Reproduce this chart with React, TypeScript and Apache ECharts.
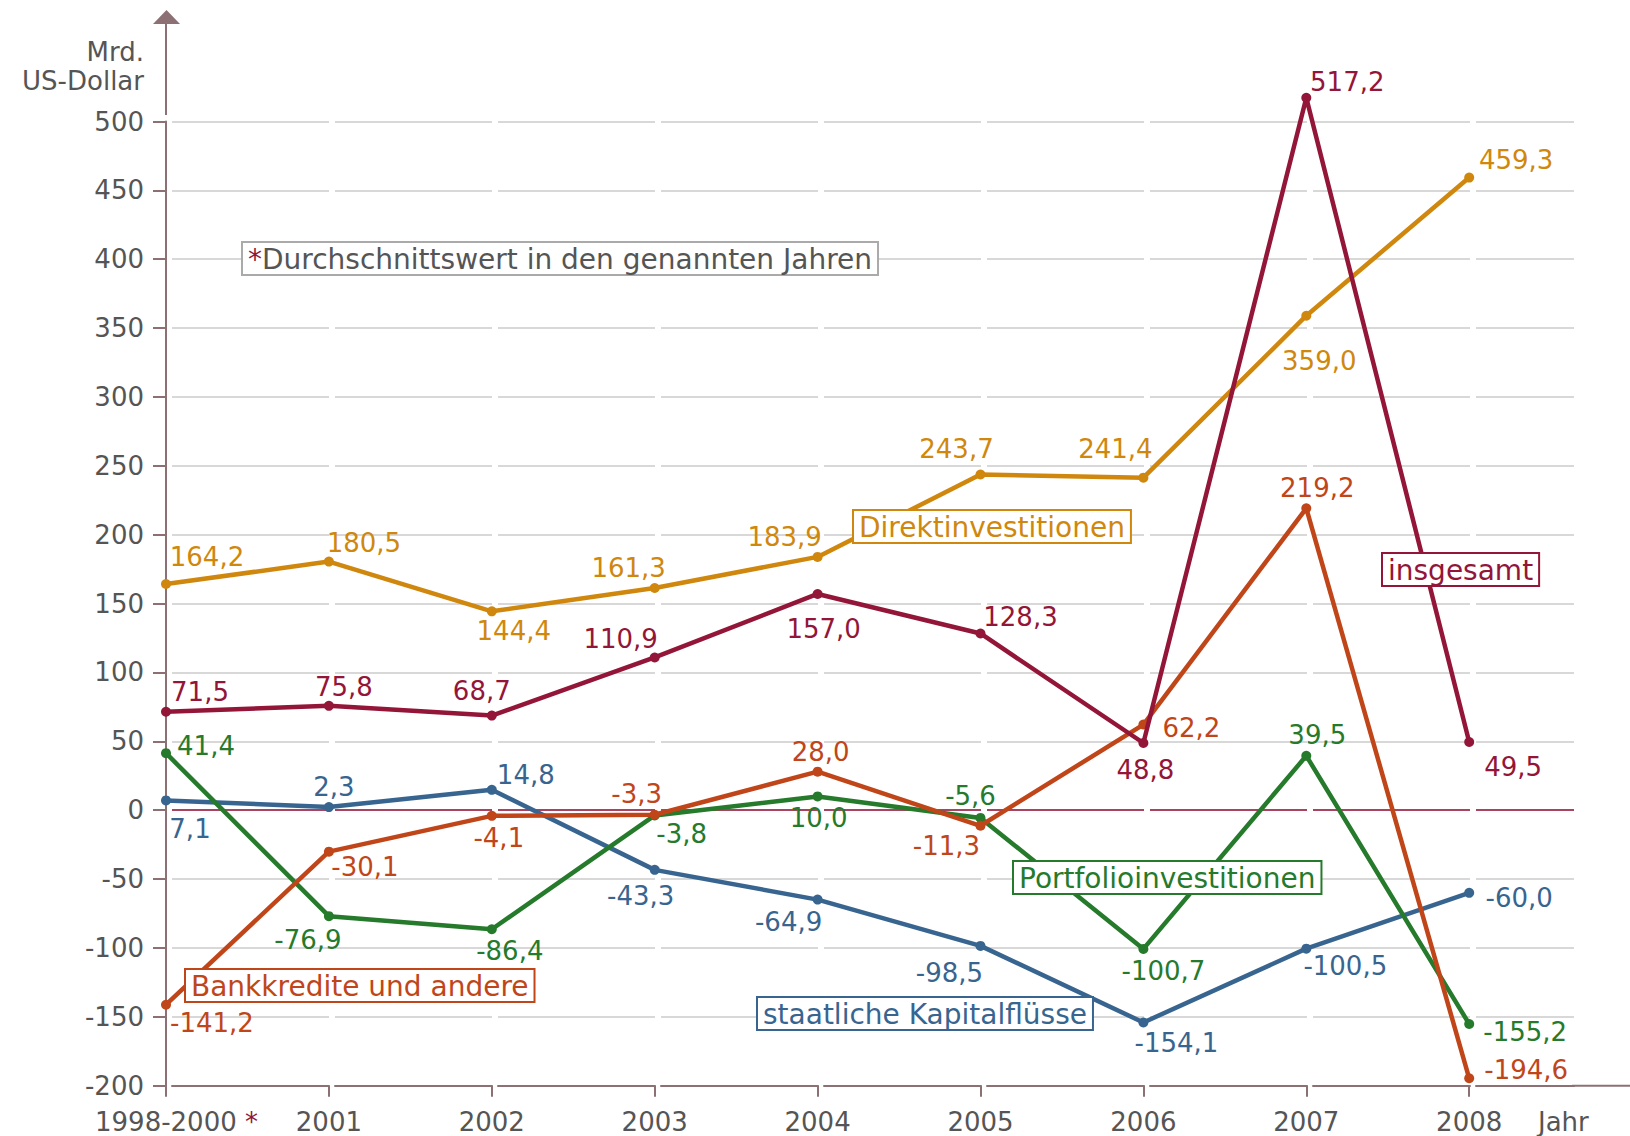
import React, { useEffect, useRef } from 'react';
import * as echarts from 'echarts';

// ---- data ----
const categories = ['1998-2000', '2001', '2002', '2003', '2004', '2005', '2006', '2007', '2008'];
const insgesamt = [71.5, 75.8, 68.7, 110.9, 157.0, 128.3, 48.8, 517.2, 49.5];
const direktinvestitionen = [164.2, 180.5, 144.4, 161.3, 183.9, 243.7, 241.4, 359.0, 459.3];
const bankkredite = [-141.2, -30.1, -4.1, -3.3, 28.0, -11.3, 62.2, 219.2, -194.6];
const portfolioinvestitionen = [41.4, -76.9, -86.4, -3.8, 10.0, -5.6, -100.7, 39.5, -155.2];
const staatlicheKapitalfluesse = [7.1, 2.3, 14.8, -43.3, -64.9, -98.5, -154.1, -100.5, -60.0];
const yMin = -200;
const yMax = 500;
const yInterval = 50;

// ---- label placement (styling only) ----
const offInsgesamt = [[34, -20], [15, -19], [-10, -25], [-34, -18], [6, 35], [40, -16], [2, 27], [41, -16], [44, 25]];
const offDirekt = [[41, -27], [35, -19], [22, 20], [-26, -20], [-33, -20], [-24, -26], [-28, -29], [13, 45], [47, -18]];
const offBank = [[46, 18], [36, 15], [7, 22], [-18, -21], [3, -20], [-34, 20], [48, 3], [11, -20], [57, -8]];
const offPortfolio = [[40, -7], [-21, 24], [18, 22], [27, 19], [1, 22], [-10, -22], [20, 22], [11, -21], [56, 8]];
const offStaat = [[24, 29], [5, -20], [34, -15], [-14, 26], [-29, 22], [-31, 27], [33, 21], [39, 17], [50, 5]];

const FONT = 'DejaVu Sans';
const C_INS = '#931638';
const C_DIR = '#d0870d';
const C_BANK = '#c0461a';
const C_PORT = '#267a2b';
const C_STAAT = '#386590';
const C_AXIS = '#8c7074';
const C_GRID = '#d8d8d8';
const C_ZERO = '#a84460';
const C_TEXT = '#555555';

const fmt = (v: number) => v.toFixed(1).replace('.', ',');

function makeSeries(name: string, values: number[], offsets: number[][], color: string, z: number) {
  return {
    name,
    type: 'line',
    z,
    clip: false,
    symbol: 'circle',
    symbolSize: 10,
    lineStyle: { color, width: 4.5 },
    itemStyle: { color },
    data: values.map((v, i) => ({
      value: [i, v],
      label: { offset: offsets[i] },
    })),
    label: {
      show: true,
      position: 'inside',
      align: 'center',
      verticalAlign: 'middle',
      color,
      fontSize: 26,
      fontFamily: FONT,
      formatter: (p: any) => fmt(p.value[1]),
    },
    emphasis: { disabled: true },
  };
}

export default function App() {
  const ref = useRef<HTMLDivElement>(null);
  useEffect(() => {
    if (!ref.current) return;
    const chart = echarts.init(ref.current, undefined, { renderer: 'svg' });
    const nLines = (yMax - yMin) / yInterval + 1;
    const gridColors: string[] = [];
    for (let k = 0; k < nLines; k++) {
      gridColors.push(yMin + k * yInterval === 0 ? C_ZERO : C_GRID);
    }
    const xMax = (1574 - 166) / 162.9;
    const boxText = (text: string, x: number, y: number, color: string) => ({
      type: 'text',
      x,
      y,
      z: 100,
      style: {
        text,
        fill: color,
        font: `28px "${FONT}"`,
        textAlign: 'left',
        textVerticalAlign: 'top',
        backgroundColor: '#ffffff',
        borderColor: color,
        borderWidth: 2,
        padding: [2, 5, 1, 5],
      },
    });
    chart.setOption({
      animation: false,
      backgroundColor: '#ffffff',
      textStyle: { fontFamily: FONT },
      grid: { left: 166, right: 56, top: 121.5, bottom: 50.3, containLabel: false },
      xAxis: {
        type: 'value',
        min: 0,
        max: xMax,
        interval: 1,
        axisLine: { show: true, onZero: false, lineStyle: { color: C_AXIS, width: 2, type: [157, 6], dashOffset: 157 } },
        axisTick: { show: true, length: 11, lineStyle: { color: C_AXIS, width: 2 } },
        splitLine: { show: false },
        axisLabel: {
          margin: 23,
          fontSize: 26,
          color: C_TEXT,
          fontFamily: FONT,
          showMaxLabel: false,
          formatter: (v: number) => {
            if (!Number.isInteger(v) || v < 0 || v >= categories.length) return '';
            if (v === 0) return `{p|}{a|${categories[0]}}{s| *}`;
            return categories[v];
          },
          rich: {
            p: { width: 21, fontSize: 26 },
            a: { fontSize: 26, color: C_TEXT, fontFamily: FONT },
            s: { fontSize: 26, color: C_INS, fontFamily: FONT },
          },
        },
      },
      yAxis: {
        type: 'value',
        min: yMin,
        max: yMax,
        interval: yInterval,
        axisLine: { show: true, onZero: false, lineStyle: { color: C_AXIS, width: 2 } },
        axisTick: { show: true, length: 13, lineStyle: { color: C_AXIS, width: 2 } },
        axisLabel: { margin: 22, fontSize: 26, color: C_TEXT, fontFamily: FONT },
        splitLine: {
          show: true,
          showMinLine: false,
          lineStyle: { color: gridColors.slice(1), width: 2, type: [157, 6], dashOffset: 157 },
        },
      },
      series: [
        makeSeries('staatliche Kapitalflüsse', staatlicheKapitalfluesse, offStaat, C_STAAT, 3),
        makeSeries('Portfolioinvestitionen', portfolioinvestitionen, offPortfolio, C_PORT, 4),
        makeSeries('Bankkredite und andere', bankkredite, offBank, C_BANK, 5),
        makeSeries('Direktinvestitionen', direktinvestitionen, offDirekt, C_DIR, 6),
        makeSeries('insgesamt', insgesamt, offInsgesamt, C_INS, 7),
      ],
      graphic: [
        // y-axis extension and arrow
        { type: 'line', shape: { x1: 166, y1: 115, x2: 166, y2: 22 }, style: { stroke: C_AXIS, lineWidth: 2 } },
        { type: 'polygon', shape: { points: [[153, 24], [180, 24], [166.5, 10]] }, style: { fill: C_AXIS } },
        // x-axis extension
        { type: 'line', shape: { x1: 1572, y1: 1085.7, x2: 1630, y2: 1085.7 }, style: { stroke: C_AXIS, lineWidth: 2 } },
        { type: 'text', x: 144, y: 52, style: { text: 'Mrd.', fill: C_TEXT, font: `26px "${FONT}"`, textAlign: 'right', textVerticalAlign: 'middle' } },
        { type: 'text', x: 144, y: 81, style: { text: 'US-Dollar', fill: C_TEXT, font: `26px "${FONT}"`, textAlign: 'right', textVerticalAlign: 'middle' } },
        { type: 'text', x: 1538, y: 1122, style: { text: 'Jahr', fill: C_TEXT, font: `26px "${FONT}"`, textAlign: 'left', textVerticalAlign: 'middle' } },
        {
          type: 'text',
          x: 243,
          y: 243,
          z: 100,
          style: {
            text: '{s|*}{t|Durchschnittswert in den genannten Jahren}',
            rich: {
              s: { fill: C_INS, font: `28px "${FONT}"` },
              t: { fill: C_TEXT, font: `28px "${FONT}"` },
            },
            font: `28px "${FONT}"`,
            textAlign: 'left',
            textVerticalAlign: 'top',
            backgroundColor: '#ffffff',
            borderColor: '#aaaaaa',
            borderWidth: 2,
            padding: [2, 5, 1, 5],
          },
        },
        boxText('Direktinvestitionen', 854, 511, C_DIR),
        boxText('insgesamt', 1383, 554, C_INS),
        boxText('Portfolioinvestitionen', 1014, 862, C_PORT),
        boxText('staatliche Kapitalflüsse', 758, 998, C_STAAT),
        boxText('Bankkredite und andere', 186, 970, C_BANK),
      ],
    });
    return () => chart.dispose();
  }, []);
  return (
    <div
      ref={ref}
      style={{ position: 'absolute', left: 0, top: 0, width: 1630, height: 1136, background: '#fff' }}
    />
  );
}
